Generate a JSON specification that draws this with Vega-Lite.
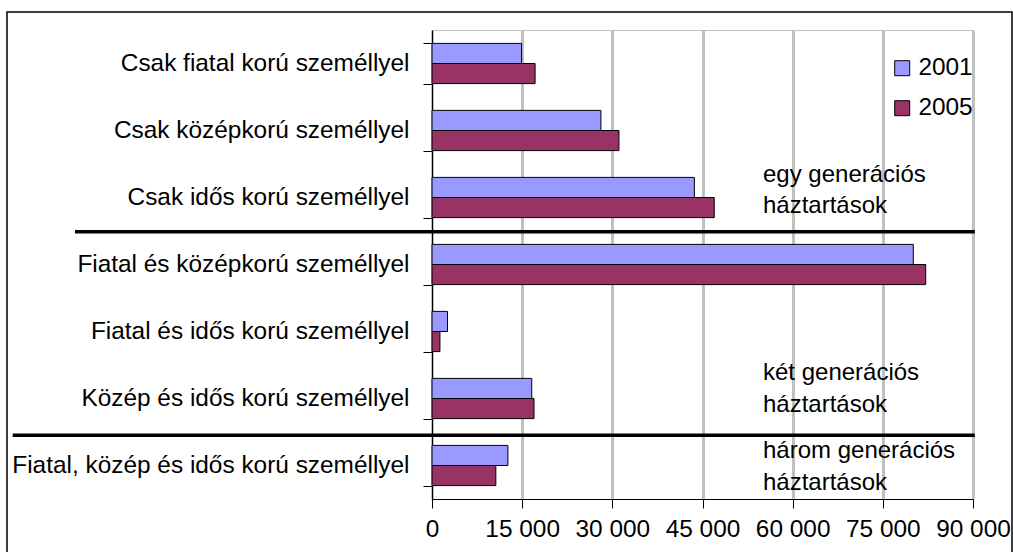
{
  "$schema": "https://vega.github.io/schema/vega-lite/v6.json",
  "autosize": {"type": "none"},
  "padding": {"left": 432, "top": 30, "right": 40, "bottom": 53},
  "width": 541,
  "height": 469,
  "background": "white",
  "config": {
    "view": {"stroke": "#c0c0c0", "strokeWidth": 1},
    "font": "Liberation Sans",
    "axis": {"labelFont": "Liberation Sans", "labelColor": "black", "labelFontSize": 24}
  },
  "layer": [
    {
      "data": {
        "values": [
          {"cat": "Csak fiatal korú személlyel", "year": "2001", "value": 14900},
          {"cat": "Csak fiatal korú személlyel", "year": "2005", "value": 17150},
          {"cat": "Csak középkorú személlyel", "year": "2001", "value": 28100},
          {"cat": "Csak középkorú személlyel", "year": "2005", "value": 31100},
          {"cat": "Csak idős korú személlyel", "year": "2001", "value": 43650},
          {"cat": "Csak idős korú személlyel", "year": "2005", "value": 46950},
          {"cat": "Fiatal és középkorú személlyel", "year": "2001", "value": 80070},
          {"cat": "Fiatal és középkorú személlyel", "year": "2005", "value": 82130},
          {"cat": "Fiatal és idős korú személlyel", "year": "2001", "value": 2580},
          {"cat": "Fiatal és idős korú személlyel", "year": "2005", "value": 1320},
          {"cat": "Közép és idős korú személlyel", "year": "2001", "value": 16590},
          {"cat": "Közép és idős korú személlyel", "year": "2005", "value": 16970},
          {"cat": "Fiatal, közép és idős korú személlyel", "year": "2001", "value": 12630},
          {"cat": "Fiatal, közép és idős korú személlyel", "year": "2005", "value": 10620}
        ]
      },
      "mark": {"type": "bar", "stroke": "black", "strokeWidth": 1},
      "encoding": {
        "y": {
          "field": "cat", "type": "nominal",
          "sort": ["Csak fiatal korú személlyel", "Csak középkorú személlyel", "Csak idős korú személlyel", "Fiatal és középkorú személlyel", "Fiatal és idős korú személlyel", "Közép és idős korú személlyel", "Fiatal, közép és idős korú személlyel"],
          "scale": {"paddingInner": 0.4, "paddingOuter": 0.2},
          "axis": {
            "title": null, "tickBand": "extent", "grid": false,
            "domainColor": "black", "tickColor": "black", "tickSize": 9,
            "labelPadding": 14, "labelLimit": 1000, "labelFontSize": 24.4
          }
        },
        "yOffset": {"field": "year", "type": "nominal", "scale": {"paddingInner": 0, "paddingOuter": 0}},
        "x": {
          "field": "value", "type": "quantitative",
          "scale": {"domain": [0, 90000], "nice": false},
          "axis": {
            "title": null, "values": [0, 15000, 30000, 45000, 60000, 75000, 90000],
            "grid": true, "gridColor": "#c0c0c0", "gridWidth": 3,
            "domainColor": "black", "tickColor": "black", "tickSize": 9,
            "labelPadding": 9, "labelFontSize": 24.4, "labelOverlap": false, "labelFlush": false,
            "labelExpr": "replace(format(datum.value, ','), ',', ' ')"
          }
        },
        "color": {
          "field": "year", "type": "nominal",
          "scale": {"domain": ["2001", "2005"], "range": ["#9999FF", "#993366"]},
          "legend": {
            "title": null, "orient": "none", "legendX": 458, "legendY": 26,
            "symbolType": "square", "symbolSize": 225, "symbolStrokeColor": "black", "symbolStrokeWidth": 1,
            "labelFontSize": 24.4, "labelFont": "Liberation Sans", "labelColor": "black",
            "rowPadding": 15, "labelOffset": 4, "padding": 0
          }
        }
      }
    },
    {
      "data": {"values": [{}]},
      "layer": [
        {
          "mark": {"type": "rect", "fill": "transparent", "stroke": "black", "strokeWidth": 1.5},
          "encoding": {
            "x": {"datum": -70702, "type": "quantitative", "scale": {"domain": [0, 90000], "nice": false}},
            "x2": {"datum": 96488},
            "y": {"datum": -0.2687, "type": "quantitative", "scale": {"domain": [0, 7], "reverse": true, "nice": false, "zero": false}, "axis": null},
            "y2": {"datum": 8}
          }
        },
        {
          "mark": {"type": "rule", "stroke": "black", "strokeWidth": 3.5},
          "encoding": {
            "x": {"datum": -59390, "type": "quantitative", "scale": {"domain": [0, 90000], "nice": false}},
            "x2": {"datum": 90300},
            "y": {"datum": 3.01, "type": "quantitative", "scale": {"domain": [0, 7], "reverse": true, "nice": false, "zero": false}, "axis": null}
          }
        },
        {
          "mark": {"type": "rule", "stroke": "black", "strokeWidth": 3.5},
          "encoding": {
            "x": {"datum": -69755, "type": "quantitative", "scale": {"domain": [0, 90000], "nice": false}},
            "x2": {"datum": 90300},
            "y": {"datum": 6.05, "type": "quantitative", "scale": {"domain": [0, 7], "reverse": true, "nice": false, "zero": false}, "axis": null}
          }
        },
        {
          "mark": {"type": "text", "align": "left", "baseline": "alphabetic", "fontSize": 24, "font": "Liberation Sans", "color": "black", "lineBreak": "\n", "lineHeight": 31.6},
          "encoding": {
            "x": {"datum": 55065, "type": "quantitative", "scale": {"domain": [0, 90000], "nice": false}},
            "y": {"datum": 2.264, "type": "quantitative", "scale": {"domain": [0, 7], "reverse": true, "nice": false, "zero": false}, "axis": null},
            "text": {"value": "egy generációs\nháztartások"}
          }
        },
        {
          "mark": {"type": "text", "align": "left", "baseline": "alphabetic", "fontSize": 24, "font": "Liberation Sans", "color": "black", "lineBreak": "\n", "lineHeight": 31.6},
          "encoding": {
            "x": {"datum": 55065, "type": "quantitative", "scale": {"domain": [0, 90000], "nice": false}},
            "y": {"datum": 5.224, "type": "quantitative", "scale": {"domain": [0, 7], "reverse": true, "nice": false, "zero": false}, "axis": null},
            "text": {"value": "két generációs\nháztartások"}
          }
        },
        {
          "mark": {"type": "text", "align": "left", "baseline": "alphabetic", "fontSize": 24, "font": "Liberation Sans", "color": "black", "lineBreak": "\n", "lineHeight": 31.6},
          "encoding": {
            "x": {"datum": 55065, "type": "quantitative", "scale": {"domain": [0, 90000], "nice": false}},
            "y": {"datum": 6.393, "type": "quantitative", "scale": {"domain": [0, 7], "reverse": true, "nice": false, "zero": false}, "axis": null},
            "text": {"value": "három generációs\nháztartások"}
          }
        }
      ]
    }
  ],
  "resolve": {"scale": {"y": "independent"}, "axis": {"y": "independent"}}
}
